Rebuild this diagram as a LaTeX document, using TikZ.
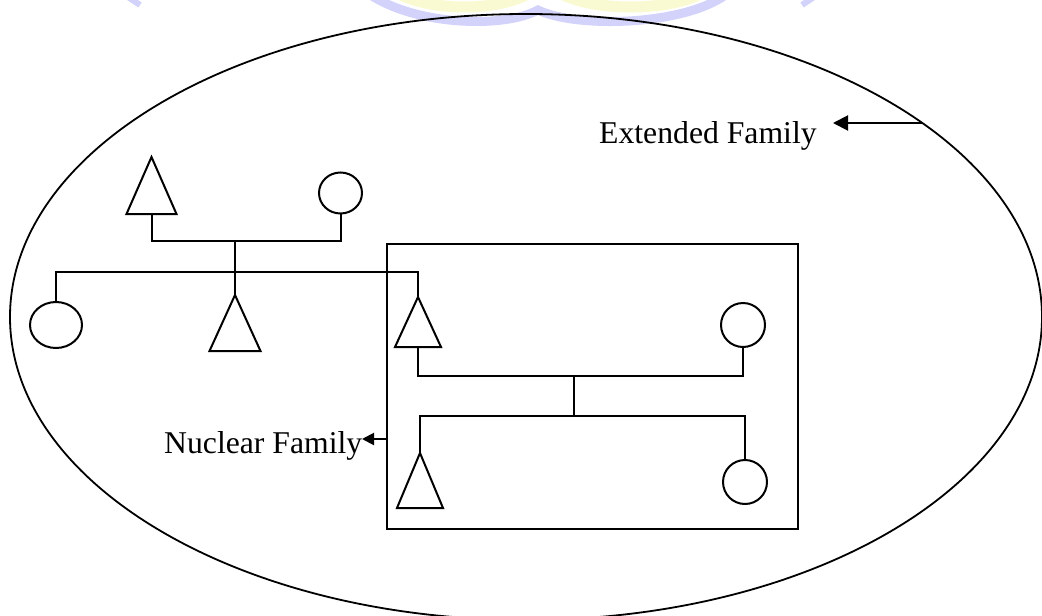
\documentclass[tikz,border=0pt]{standalone}
\usepackage{fontspec}
\setmainfont{Liberation Serif}
\usetikzlibrary{shapes.geometric,arrows.meta}
\definecolor{wmblue}{RGB}{210,210,250}
\definecolor{wmyellow}{RGB}{250,250,210}
\tikzset{
  ln/.style={line width=2pt},
  male/.style={draw, line width=2pt, isosceles triangle, isosceles triangle stretches,
    shape border rotate=90, inner sep=0pt, outer sep=0pt, anchor=apex},
  female/.style={draw, line width=2pt, ellipse, inner sep=0pt, outer sep=0pt},
  lbl/.style={inner sep=0pt, anchor=base west, font=\fontsize{31.7}{36}\selectfont},
  arr/.style={line width=2pt, -{Triangle[length=#1pt, width=#1pt]}},
  arr/.default=13
}
\begin{document}
\begin{tikzpicture}[x=1pt, y=-1pt]
\useasboundingbox (0,0) rectangle (1042,616);
% faint watermark at top
\draw[wmblue, line width=9pt] (372,-4) .. controls (420,26) and (505,28) .. (538,10)
  .. controls (575,28) and (680,26) .. (724,-4);
\draw[wmyellow, line width=11pt] (395,-8) .. controls (430,12) and (500,12) .. (531,-8);
\draw[wmyellow, line width=11pt] (558,-8) .. controls (590,12) and (670,12) .. (704,-8);
\draw[wmblue, line width=6pt] (128,-3) -- (140,5);
\draw[wmblue, line width=6pt] (814,-3) -- (802,5);
% extended family ellipse
\node[draw, ellipse, line width=1.8pt, minimum width=1032pt, minimum height=606pt, inner sep=0pt] (ext) at (526,317) {};
% nuclear family box
\node[draw, rectangle, line width=2pt, minimum width=411pt, minimum height=285pt, inner sep=0pt, outer sep=0pt] (box) at (592.5,386.5) {};
% grandparents
\node[male, minimum width=50pt, minimum height=57pt] (gf) at (151.5,157) {};
\node[female, minimum width=43pt, minimum height=41pt] (gm) at (340.5,193) {};
% children of grandparents
\node[female, minimum width=52pt, minimum height=46pt] (aunt) at (56,325) {};
\node[male, minimum width=51pt, minimum height=56pt] (uncle) at (235,295) {};
\node[male, minimum width=46pt, minimum height=50pt] (father) at (418,297) {};
% nuclear family
\node[female, minimum width=44pt, minimum height=44pt] (mother) at (743,325) {};
\node[male, minimum width=46pt, minimum height=55pt] (son) at (420,453) {};
\node[female, minimum width=44pt, minimum height=44pt] (daughter) at (745,482) {};
% labels
\node[lbl] (extlbl) at (599,143) {Extended Family};
\node[lbl] (nuclbl) at (164,453) {Nuclear Family};
\coordinate (extpt) at (922,123);
\coordinate (exttip) at (833,123);
\coordinate (nucpt) at (387,439);
\coordinate (nuctip) at (362,439);
\coordinate (mid) at (574,400);
% connectors
\draw[ln] (gf.lower side) -- ++(0,26.5) coordinate (cpl1) -| (gm.south);
\draw[ln] (uncle.apex |- cpl1) -- (uncle.apex);
\draw[ln] (aunt.north) -- ++(0,-30) -| (father.apex);
\draw[ln] (father.lower side) -- ++(0,29) coordinate (cpl2) -| (mother.south);
\draw[ln] (son.apex) -- ++(0,-37) coordinate (sib2) -| (daughter.north);
\draw[ln] (mid |- cpl2) -- (mid |- sib2);
\draw[arr=15] (extpt) -- (exttip);
\draw[arr=12] (nucpt) -- (nuctip);
\end{tikzpicture}
\end{document}
